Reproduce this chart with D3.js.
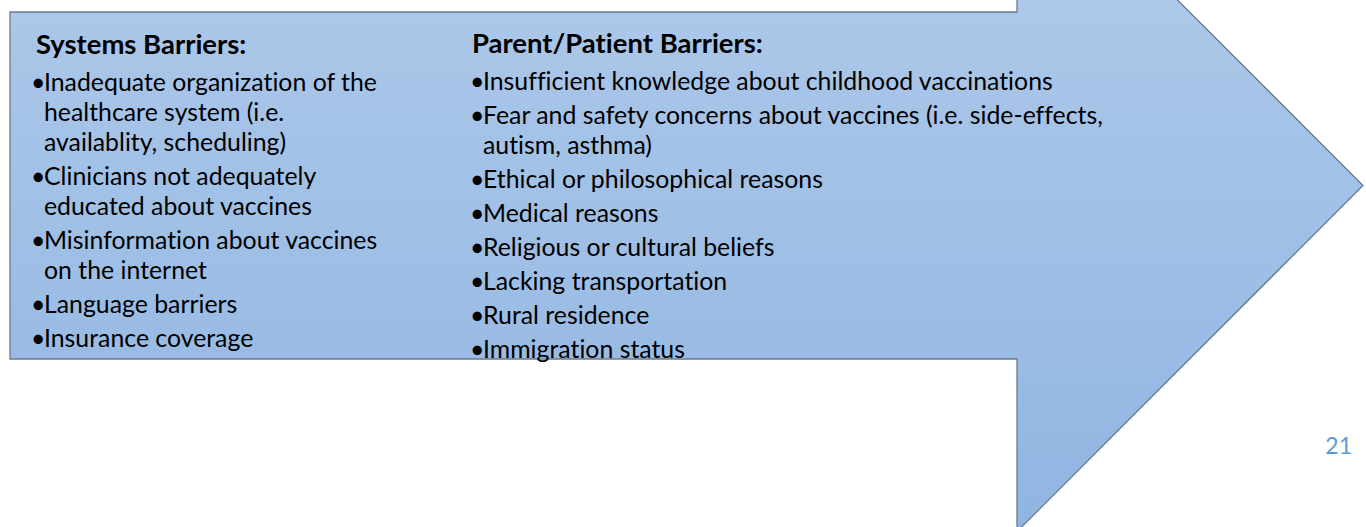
<!DOCTYPE html>
<html>
<head>
<meta charset="utf-8">
<script src="https://cdn.jsdelivr.net/npm/d3@7"></script>
<style>
  body { margin: 0; background: #fff; }
  text { font-family: Lato, "Open Sans", sans-serif; font-variant-ligatures: none; }
</style>
</head>
<body>
<div id="content"></div>
<script>
// text content
var systemsTitle = "Systems Barriers:";
var systemsItems = [
  ["Inadequate organization of the", "healthcare system (i.e.", "availablity, scheduling)"],
  ["Clinicians not adequately", "educated about vaccines"],
  ["Misinformation about vaccines", "on the internet"],
  ["Language barriers"],
  ["Insurance coverage"]
];
var parentTitle = "Parent/Patient Barriers:";
var parentItems = [
  ["Insufficient knowledge about childhood vaccinations"],
  ["Fear and safety concerns about vaccines (i.e. side-effects,", "autism, asthma)"],
  ["Ethical or philosophical reasons"],
  ["Medical reasons"],
  ["Religious or cultural beliefs"],
  ["Lacking transportation"],
  ["Rural residence"],
  ["Immigration status"]
];
var pageNumber = "21";

var W = 1366, H = 527;

// arrow geometry (slide units = px)
var bodyLeft = 10, bodyTop = 12, bodyBottom = 359, neckX = 1017, tipX = 1363;
var midY = (bodyTop + bodyBottom) / 2;
var headHalf = tipX - neckX;

var svg = d3.select("#content").append("svg")
  .attr("width", W).attr("height", H);

var grad = svg.append("defs").append("linearGradient")
  .attr("id", "fillGrad")
  .attr("gradientUnits", "userSpaceOnUse")
  .attr("x1", 0).attr("x2", 0)
  .attr("y1", midY - headHalf).attr("y2", midY + headHalf);
grad.append("stop").attr("offset", "0%").attr("stop-color", "#b4cdec");
grad.append("stop").attr("offset", "100%").attr("stop-color", "#90b5e1");

var arrowPts = [
  [bodyLeft, bodyTop], [neckX, bodyTop], [neckX, midY - headHalf],
  [tipX, midY], [neckX, midY + headHalf], [neckX, bodyBottom], [bodyLeft, bodyBottom]
];

svg.append("path")
  .attr("d", d3.line()(arrowPts) + "Z")
  .attr("fill", "url(#fillGrad)")
  .attr("stroke", "#6a7a8e")
  .attr("stroke-width", 1.3);

// fit font size so the longest line matches the reference width
function measure(str, size, weight) {
  var t = svg.append("text").attr("font-size", size).attr("font-weight", weight).text(str);
  var len = t.node().getComputedTextLength();
  t.remove();
  return len;
}
var bodySize = 100 * 570 / measure(parentItems[0][0], 100, "normal");
var titleSize = 100 * 291 / measure(parentTitle, 100, "bold");

var lineGap = 30, itemGap = 34;

function drawColumn(title, items, opts) {
  var g = svg.append("g");
  g.append("text")
    .attr("x", opts.titleX).attr("y", opts.titleY)
    .attr("font-size", titleSize).attr("font-weight", "bold")
    .attr("fill", "#000")
    .text(title);

  var y = opts.firstY;
  items.forEach(function(lines, i) {
    if (i > 0) y += itemGap;
    g.append("text")
      .attr("x", opts.bulletX).attr("y", y)
      .attr("font-size", bodySize).attr("fill", "#000")
      .text("\u2022");
    lines.forEach(function(line, j) {
      if (j > 0) y += lineGap;
      g.append("text")
        .attr("x", opts.textX).attr("y", y)
        .attr("font-size", bodySize).attr("fill", "#000")
        .text(line);
    });
  });
}

drawColumn(systemsTitle, systemsItems, { titleX: 36, titleY: 54, bulletX: 31, textX: 44, firstY: 91 });
drawColumn(parentTitle, parentItems, { titleX: 472, titleY: 52.5, bulletX: 470, textX: 483, firstY: 90 });

svg.append("text")
  .attr("x", 1352).attr("y", 454)
  .attr("text-anchor", "end")
  .attr("font-size", 23)
  .attr("fill", "#5b9bd5")
  .text(pageNumber);
</script>
</body>
</html>
